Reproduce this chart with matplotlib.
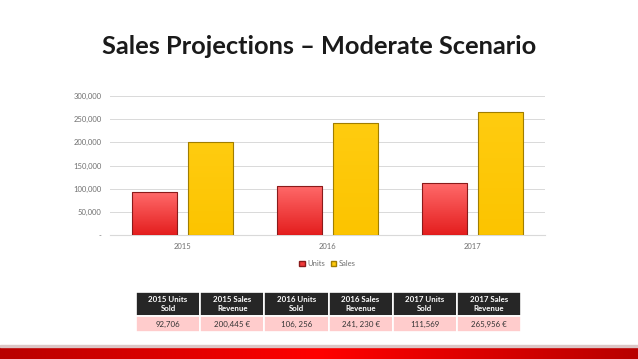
import numpy as np
import matplotlib
matplotlib.use("Agg")
import matplotlib.pyplot as plt
from matplotlib.colors import LinearSegmentedColormap
from matplotlib.patches import Patch

plt.rcParams['font.family'] = ['Lato', 'DejaVu Sans']

years = ["2015", "2016", "2017"]
units = [92706, 106256, 111569]
sales = [200445, 241230, 265956]
yticks = [0, 50000, 100000, 150000, 200000, 250000, 300000]
ytick_labels = ["-", "50,000", "100,000", "150,000", "200,000", "250,000", "300,000"]
table_header = ["2015 Units\nSold", "2015 Sales\nRevenue", "2016 Units\nSold",
                "2016 Sales\nRevenue", "2017 Units\nSold", "2017 Sales\nRevenue"]
table_values = ["92,706", "200,445 €", "106, 256", "241, 230 €", "111,569", "265,956 €"]

W, H = 638, 359
fig = plt.figure(figsize=(W / 100, H / 100), dpi=100)

fig.text(0.5, 1 - 47 / H, "Sales Projections \u2013 Moderate Scenario", ha="center", va="center",
         fontsize=18.3, fontweight="bold", color="#1a1a1a")

ax = fig.add_axes([110 / W, 1 - 235 / H, 435 / W, 139 / H])
x = np.arange(len(years))
w = 0.317
b1 = ax.bar(x - 0.193, units, w, color="#f23a3a", edgecolor="#8a1a1a", linewidth=0.8, label="Units", zorder=3)
b2 = ax.bar(x + 0.193, sales, w, color="#ffc90a", edgecolor="#a07d00", linewidth=0.8, label="Sales", zorder=3)

# vertical gradient fill inside each bar
red_grad = LinearSegmentedColormap.from_list("rg", ["#e41e1e", "#ff6a6a"])
yel_grad = LinearSegmentedColormap.from_list("yg", ["#fcc400", "#ffcc10"])
for bars, cm in [(b1, red_grad), (b2, yel_grad)]:
    for p in bars:
        x0, y0 = p.get_x(), p.get_y()
        im = ax.imshow(np.linspace(0, 1, 100)[:, None], cmap=cm, origin="lower", aspect="auto",
                       extent=[x0, x0 + p.get_width(), y0, y0 + p.get_height()], zorder=3.5)
        im.set_clip_path(p)
        p.set_zorder(3.6)
        p.set_facecolor("none")

ax.set_xlim(-0.5, 2.5)
ax.set_ylim(0, 300000)
ax.set_yticks(yticks)
ax.set_yticklabels(ytick_labels)
ax.set_xticks(x)
ax.set_xticklabels(years)
ax.tick_params(length=0, labelsize=5.5, labelcolor="#707070", pad=6)
ax.grid(axis="y", color="#d9d9d9", linewidth=0.7, zorder=0)
for s in ax.spines.values():
    s.set_visible(False)
ax.spines["bottom"].set_visible(True)
ax.spines["bottom"].set_color("#d9d9d9")
handles = [Patch(facecolor="#f23a3a", edgecolor="#8a1a1a", label="Units"),
           Patch(facecolor="#ffc90a", edgecolor="#a07d00", label="Sales")]
ax.legend(handles=handles, loc="upper center", bbox_to_anchor=(0.5, -0.13), ncol=2, frameon=False,
          fontsize=5.5, handlelength=0.7, handleheight=0.7, columnspacing=0.8,
          handletextpad=0.3, labelcolor="#707070")

tax = fig.add_axes([136 / W, 1 - 332 / H, 385 / W, 40 / H])
tax.axis("off")
tbl = tax.table(cellText=[table_header, table_values], bbox=[0, 0, 1, 1], cellLoc="center")
tbl.auto_set_font_size(False)
for (r, c), cell in tbl.get_celld().items():
    cell.set_edgecolor("white")
    cell.set_linewidth(1.2)
    if r == 0:
        cell.set_facecolor("#262626")
        cell.get_text().set_color("white")
        cell.get_text().set_fontweight("bold")
        cell.get_text().set_fontsize(5.7)
        cell.set_height(24 / 40)
    else:
        cell.set_facecolor("#ffcccc")
        cell.get_text().set_color("#333333")
        cell.get_text().set_fontsize(5.7)
        cell.set_height(16 / 40)

# bottom stripe
fig.patches.append(plt.Rectangle((0, 1 - 347 / H), 1, 2.5 / H, transform=fig.transFigure,
                                 color="#dcc6c6", zorder=1))
sax = fig.add_axes([0, 0, 1, 12 / H])
sax.axis("off")
cmap = LinearSegmentedColormap.from_list("stripe", ["#b80000", "#ff0000", "#b80000"])
sax.imshow(np.linspace(0, 1, 256)[None, :], aspect="auto", cmap=cmap, extent=[0, 1, 0, 1])

fig.savefig("out.png", dpi=100)
